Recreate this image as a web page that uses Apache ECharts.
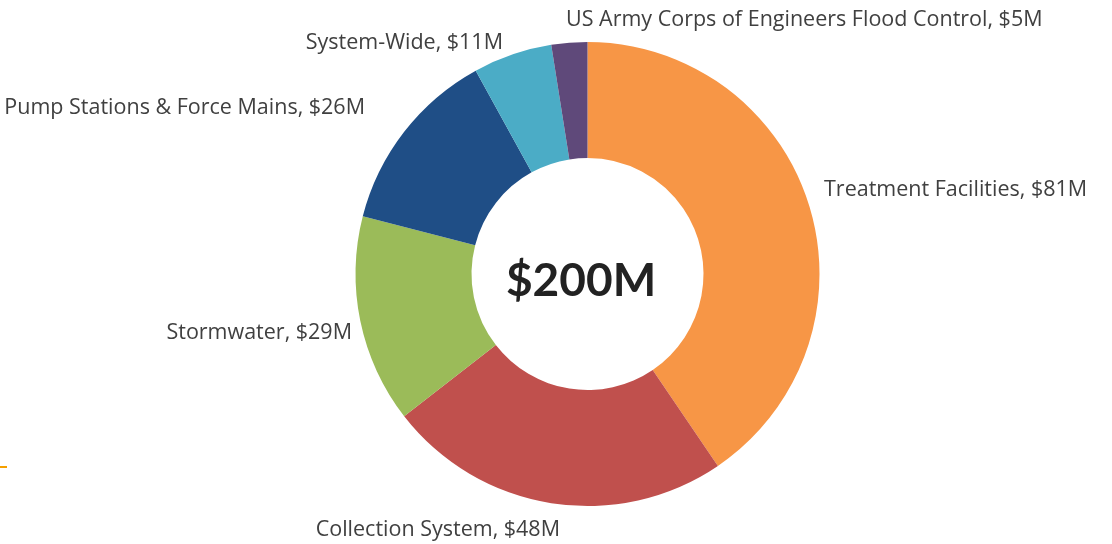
<!DOCTYPE html>
<html>
<head>
<meta charset="utf-8">
<style>
  html, body { margin: 0; padding: 0; background: #ffffff; }
  #chart { width: 1112px; height: 544px; }
</style>
<script src="https://cdn.jsdelivr.net/npm/echarts@6/dist/echarts.min.js"></script>
</head>
<body>
<div id="chart"></div>
<script>
// Capital programme split by category, in $M
const categories = [
  'Treatment Facilities',
  'Collection System',
  'Stormwater',
  'Pump Stations & Force Mains',
  'System-Wide',
  'US Army Corps of Engineers Flood Control'
];
const values = [81, 48, 29, 26, 11, 5];
const colors = ['#F79646', '#C0504D', '#9BBB59', '#1F4E86', '#4BACC6', '#5F497A'];
const totalLabel = '$200M';

// Where each category label sits (anchor point and text alignment)
const labelAnchors = [
  { x: 824, y: 190, align: 'left' },
  { x: 560, y: 530, align: 'right' },
  { x: 352, y: 333, align: 'right' },
  { x: 365, y: 108, align: 'right' },
  { x: 503, y: 43, align: 'right' },
  { x: 566, y: 20, align: 'left' }
];

const chart = echarts.init(document.getElementById('chart'), null, { renderer: 'canvas' });

const data = categories.map((name, i) => ({
  name: name,
  value: values[i],
  itemStyle: { color: colors[i] }
}));

chart.setOption({
  backgroundColor: '#ffffff',
  animation: false,
  graphic: [
    {
      type: 'text',
      x: 581,
      y: 281,
      style: {
        text: totalLabel,
        align: 'center',
        verticalAlign: 'middle',
        font: 'bold 46px Lato',
        fill: '#222222'
      }
    },
    {
      type: 'rect',
      shape: { x: 0, y: 466, width: 7, height: 2 },
      style: { fill: '#F5A000' }
    }
  ],
  series: [{
    type: 'pie',
    center: [587.5, 274],
    radius: [116, 232],
    startAngle: 90,
    clockwise: true,
    avoidLabelOverlap: false,
    label: {
      show: true,
      position: 'outside',
      formatter: p => p.name + ', $' + p.value + 'M',
      fontFamily: 'Open Sans',
      fontSize: 21.5,
      color: '#404040'
    },
    labelLine: { show: false, length: 10, length2: 0 },
    labelLayout: function (params) {
      const a = labelAnchors[params.dataIndex];
      return { x: a.x, y: a.y, align: a.align, verticalAlign: 'middle' };
    },
    data: data
  }]
});
</script>
</body>
</html>
